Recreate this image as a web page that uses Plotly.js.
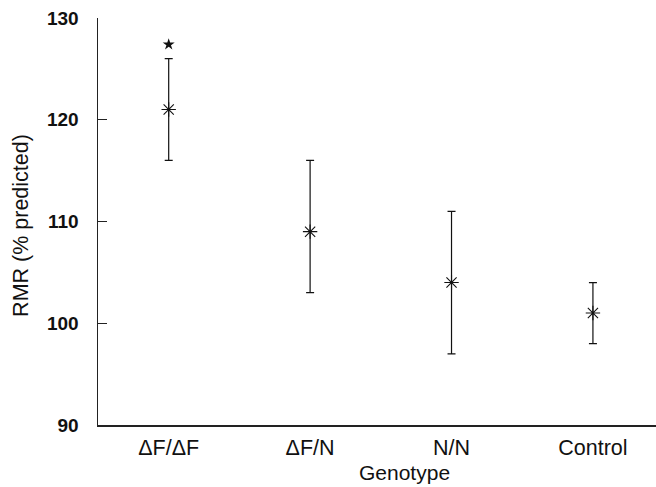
<!DOCTYPE html>
<html>
<head>
<meta charset="utf-8">
<script src="https://cdn.plot.ly/plotly-3.0.1.min.js"></script>
<style>html,body{margin:0;padding:0;background:#fff;}#chart{width:656px;height:487px;}</style>
</head>
<body>
<div id="chart"></div>
<script>
const categories = ['ΔF/ΔF', 'ΔF/N', 'N/N', 'Control'];
const means = [121, 109, 104, 101];
const upper = [126, 116, 111, 104];
const lower = [116, 103, 97, 98];
const sigCategories = ['ΔF/ΔF'];
const sigValues = [127.4];
const yTicks = [90, 100, 110, 120, 130];

const errPlus = means.map((m, i) => upper[i] - m);
const errMinus = means.map((m, i) => m - lower[i]);

const font = 'Liberation Sans, Arial, Helvetica, sans-serif';

const traces = [
  {
    x: categories, y: means, type: 'scatter', mode: 'markers',
    marker: {symbol: 'asterisk-open', size: 12, color: '#111', line: {color: '#111', width: 1.1}},
    error_y: {type: 'data', symmetric: false, array: errPlus, arrayminus: errMinus,
              color: '#111', thickness: 1.2, width: 4},
    hoverinfo: 'skip'
  },
  {
    x: sigCategories, y: sigValues, type: 'scatter', mode: 'markers',
    marker: {symbol: 'star', size: 9, color: '#111'},
    hoverinfo: 'skip'
  }
];

const layout = {
  width: 656, height: 487,
  margin: {l: 97.7, r: 0, t: 18.3, b: 62},
  paper_bgcolor: '#fff', plot_bgcolor: '#fff',
  showlegend: false,
  font: {family: font, color: '#111', size: 21},
  xaxis: {
    type: 'category', range: [-0.5, 3.446],
    showline: true, linecolor: '#222', linewidth: 1.5,
    ticks: '', showgrid: false, zeroline: false,
    tickfont: {family: font, size: 21.5, color: '#111'},
    ticklabelstandoff: 3
  },
  yaxis: {
    range: [90, 130], tickvals: yTicks, ticktext: yTicks.map(String),
    showline: true, linecolor: '#222', linewidth: 1.5,
    ticks: 'inside', ticklen: 9, tickwidth: 1.2, tickcolor: '#222',
    showgrid: false, zeroline: false,
    tickfont: {family: font, size: 19, color: '#111', weight: 'bold'},
    ticklabelstandoff: 14
  },
  annotations: [
    {text: 'Genotype', xref: 'paper', yref: 'paper', x: 0.5486, y: -0.117,
     xanchor: 'center', yanchor: 'middle', showarrow: false,
     font: {family: font, size: 21, color: '#111'}},
    {text: 'RMR (% predicted)', xref: 'paper', yref: 'paper', x: -0.1392, y: 0.49,
     xanchor: 'center', yanchor: 'middle', textangle: -90, showarrow: false,
     font: {family: font, size: 21.5, color: '#111'}}
  ]
};

Plotly.newPlot('chart', traces, layout, {displayModeBar: false, staticPlot: true});
</script>
</body>
</html>
